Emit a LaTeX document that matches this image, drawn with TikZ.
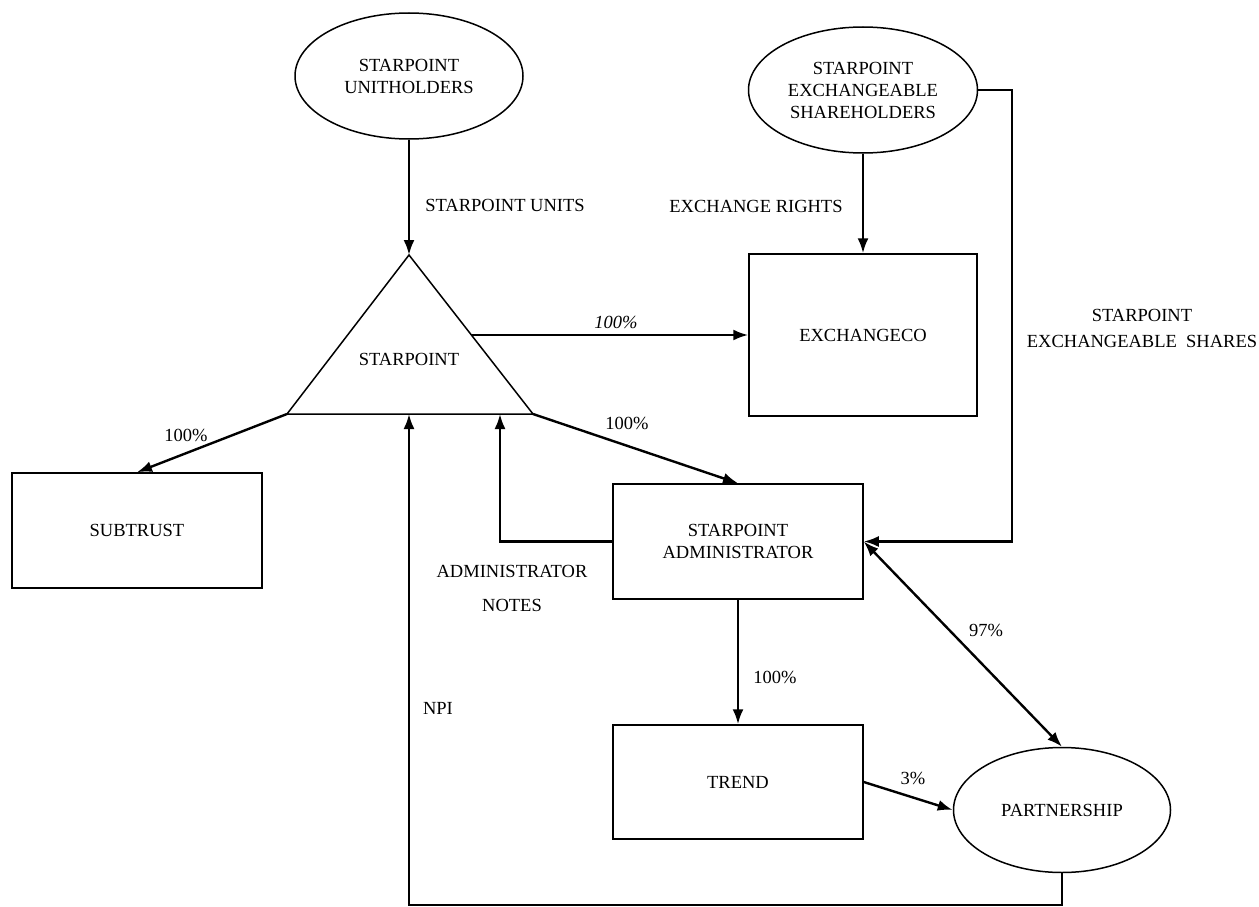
\documentclass[tikz,border=0pt]{standalone}
\usepackage{fontspec}
\setmainfont{Liberation Serif}
\usepackage{tikz}
\usetikzlibrary{positioning,shapes.geometric,arrows.meta}
\tikzset{
    entity/.style={draw, line width=1.5pt, rectangle, minimum width=250pt, minimum height=115pt, align=center, font=\fontsize{18.5}{22}\selectfont},
    holder/.style={draw, line width=1.5pt, ellipse, minimum width=228pt, minimum height=126pt, inner sep=0pt, align=center, font=\fontsize{18.5}{22}\selectfont},
    tag/.style={align=center, inner sep=1pt, font=\fontsize{18.5}{22}\selectfont},
    link/.style={draw, line width=2.4pt, -{Latex[length=15pt,width=11pt]}} % connector with filled head
}
\begin{document}
\begin{tikzpicture}[x=1pt, y=-1pt]
	\useasboundingbox (0,0) rectangle (1259,907);

	\node (unith) [holder] at (409,76) {STARPOINT\\UNITHOLDERS};
	\node (exshare) [holder, minimum width=229pt] at (863,90) {STARPOINT\\EXCHANGEABLE\\SHAREHOLDERS};
	\node (partner) [holder, minimum width=217pt, minimum height=125pt] at (1062,810) {PARTNERSHIP};

	\coordinate (apex) at (409,255);
	\coordinate (baseL) at (287,414);
	\coordinate (baseR) at (533,414);
	\coordinate (sideR) at (471,335);
	\coordinate (npiin) at (409,414);
	\coordinate (notesin) at (500,414);
	\coordinate (npicorner) at (409,905);
	\draw[line width=1.5pt, line join=miter] (apex) -- (baseL) -- (baseR) -- cycle;
	\node (starpoint) [tag] at (409,359) {STARPOINT};

	\node (exchangeco) [entity, minimum width=228pt, minimum height=162pt] at (863,335) {EXCHANGECO};
	\node (subtrust) [entity] at (137,530.5) {SUBTRUST};
	\node (admin) [entity] at (738,541.5) {STARPOINT\\ADMINISTRATOR};
	\node (trend) [entity, minimum height=114pt] at (738,782) {TREND};

	\draw[link] (unith) -- (apex);
	\draw[link] (exshare) -- (exchangeco);
	\draw[link] (sideR) -- (exchangeco.west);
	\draw[link] (baseL) -- (subtrust.north);
	\draw[link] (baseR) -- (admin.north);
	\draw[link] (admin.west) -| (notesin);
	\draw[link] (exshare.east) -- ++(34,0) |- (admin.east);
	\draw[link] (admin) -- (trend);
	\draw[link] (trend.east) -- (partner.west);
	\draw[link, {Latex[length=15pt,width=11pt]}-{Latex[length=15pt,width=11pt]}] (admin.east) -- (partner.north);
	\draw[link] (partner.south) |- (npicorner) -- (npiin);

	\node (lblunits) [tag] at (505,205) {STARPOINT UNITS};
	\node (lblrights) [tag] at (756,206) {EXCHANGE RIGHTS};
	\node (lblexco) [tag] at (616,322) {\textit{100\%}};
	\node (lblsub) [tag] at (186,435) {100\%};
	\node (lbladm) [tag] at (627,423) {100\%};
	\node (lblnotes) [tag] at (512,588) {ADMINISTRATOR\\[12pt]NOTES};
	\node (lblshares) [tag] at (1142,328) {STARPOINT\\[4pt]EXCHANGEABLE\ \ SHARES};
	\node (lbltrend) [tag] at (775,677) {100\%};
	\node (lbl97) [tag] at (986,630) {97\%};
	\node (lbl3) [tag] at (913,778) {3\%};
	\node (lblnpi) [tag] at (438,708) {NPI};
\end{tikzpicture}
\end{document}
